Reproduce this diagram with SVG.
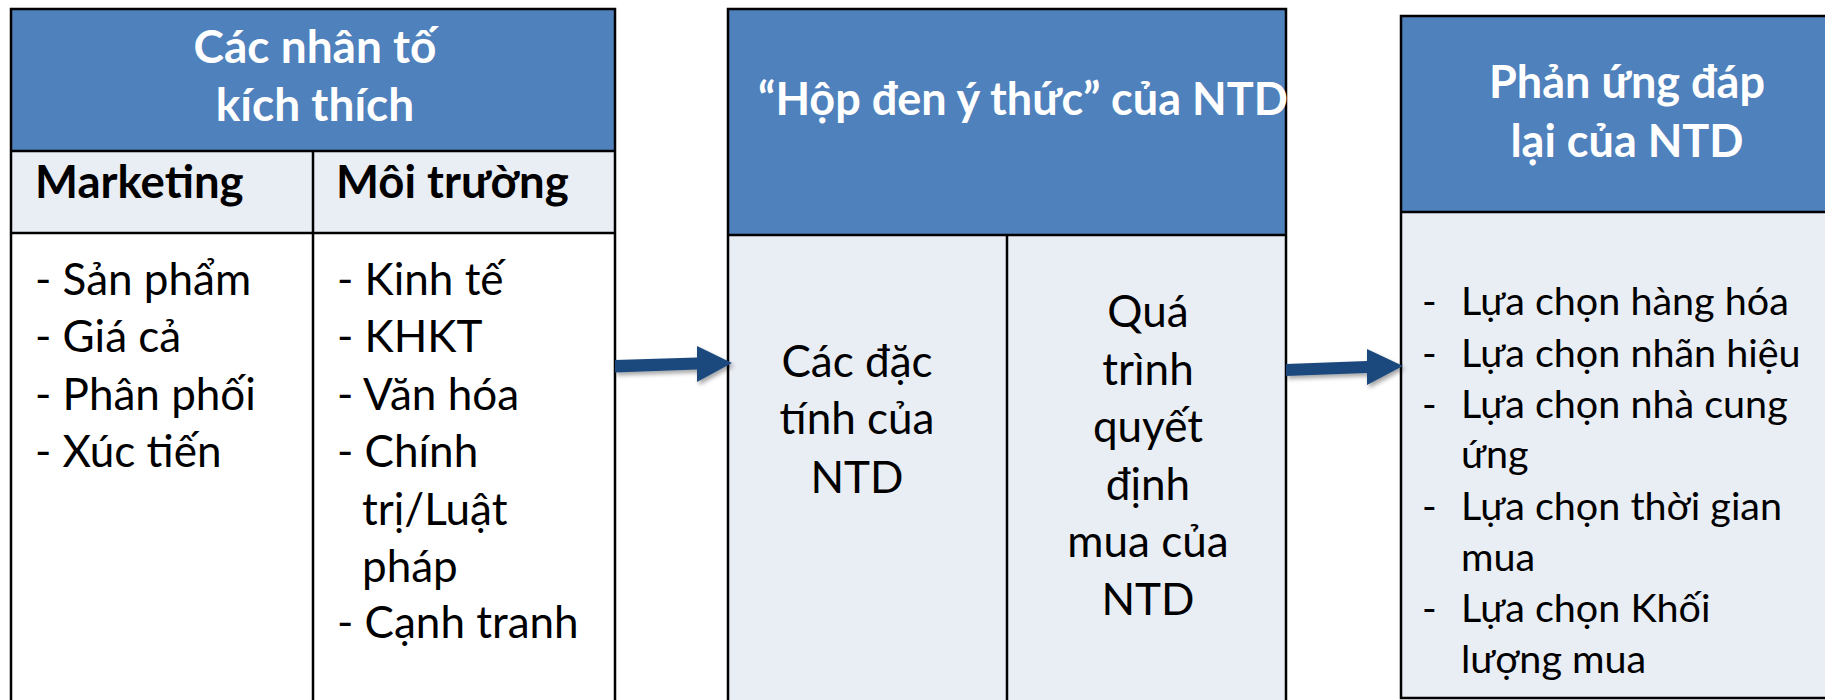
<svg xmlns="http://www.w3.org/2000/svg" width="1825" height="700" viewBox="0 0 1825 700">
  <style>
    .hdr { fill: #4F81BD; }
    .band { fill: #E9EDF4; }
    .plain { fill: #FFFFFF; }
    .ln { stroke: #000000; stroke-width: 2.5; fill: none; }
    .t { font-family: Lato, "Open Sans", "Noto Sans", sans-serif; fill: #000000; }
    .head { font-weight: bold; fill: #FFFFFF; font-size: 45px; }
    .sub { font-weight: bold; font-size: 45.5px; }
    .body { font-size: 44px; }
    .list { font-size: 39.5px; }
    .arrow { fill: #1F497D; filter: url(#shadow); }
  </style>
  <defs>
    <filter id="shadow" x="-20%" y="-40%" width="140%" height="200%">
      <feGaussianBlur in="SourceAlpha" stdDeviation="2"/>
      <feOffset dx="2" dy="3" result="blur"/>
      <feFlood flood-color="#000000" flood-opacity="0.35"/>
      <feComposite in2="blur" operator="in"/>
      <feMerge>
        <feMergeNode/>
        <feMergeNode in="SourceGraphic"/>
      </feMerge>
    </filter>
  </defs>

  <rect width="1825" height="700" fill="#FFFFFF"/>

  <!-- Stimulus factors -->
  <g id="stimuli">
    <rect class="hdr" x="11" y="9" width="604" height="142"/>
    <rect class="band" x="11" y="151" width="604" height="82"/>
    <rect class="plain" x="11" y="233" width="604" height="470"/>
    <path class="ln" d="M11,702 V9 H615 V702 M11,151 H615 M11,233 H615 M313,151 V702"/>
    <text class="t head" style="font-size:46px" text-anchor="middle" x="315" y="63">Các nhân tố</text>
    <text class="t head" style="font-size:46px" text-anchor="middle" x="315" y="121">kích thích</text>
    <text class="t sub" x="35" y="198">Marketing</text>
    <text class="t sub" x="336" y="198">Môi trường</text>
    <text class="t body" x="35" y="295">- Sản phẩm</text>
    <text class="t body" x="35" y="352">- Giá cả</text>
    <text class="t body" x="35" y="410">- Phân phối</text>
    <text class="t body" x="35" y="467">- Xúc tiến</text>
    <text class="t body" x="337" y="295">- Kinh tế</text>
    <text class="t body" x="337" y="352">- KHKT</text>
    <text class="t body" x="337" y="410">- Văn hóa</text>
    <text class="t body" x="337" y="467">- Chính</text>
    <text class="t body" x="362" y="525">trị/Luật</text>
    <text class="t body" x="362" y="582">pháp</text>
    <text class="t body" x="337" y="638">- Cạnh tranh</text>
  </g>

  <!-- Consumer black box -->
  <g id="blackbox">
    <rect class="hdr" x="728" y="9" width="558" height="226"/>
    <rect class="band" x="728" y="235" width="558" height="470"/>
    <path class="ln" d="M728,702 V9 H1286 V702 M728,235 H1286 M1007,235 V702"/>
    <text class="t head" x="758" y="115">“Hộp đen ý thức” của NTD</text>
    <text class="t body" text-anchor="middle" x="857" y="377">Các đặc</text>
    <text class="t body" text-anchor="middle" x="857" y="434">tính của</text>
    <text class="t body" text-anchor="middle" x="857" y="493">NTD</text>
    <text class="t body" text-anchor="middle" x="1148" y="327">Quá</text>
    <text class="t body" text-anchor="middle" x="1148" y="385">trình</text>
    <text class="t body" text-anchor="middle" x="1148" y="442">quyết</text>
    <text class="t body" text-anchor="middle" x="1148" y="500">định</text>
    <text class="t body" text-anchor="middle" x="1148" y="557">mua của</text>
    <text class="t body" text-anchor="middle" x="1148" y="615">NTD</text>
  </g>

  <!-- Consumer response -->
  <g id="response">
    <rect class="hdr" x="1401" y="16" width="430" height="196"/>
    <rect class="band" x="1401" y="212" width="430" height="486"/>
    <path class="ln" d="M1830,16 H1401 V698 H1830 M1401,212 H1830"/>
    <text class="t head" text-anchor="middle" x="1627" y="98">Phản ứng đáp</text>
    <text class="t head" text-anchor="middle" x="1627" y="157">lại của NTD</text>
    <g class="t list">
      <text x="1422" y="315">-</text><text x="1461" y="315">Lựa chọn hàng hóa</text>
      <text x="1422" y="367">-</text><text x="1461" y="367">Lựa chọn nhãn hiệu</text>
      <text x="1422" y="418">-</text><text x="1461" y="418">Lựa chọn nhà cung</text>
      <text x="1461" y="468">ứng</text>
      <text x="1422" y="520">-</text><text x="1461" y="520">Lựa chọn thời gian</text>
      <text x="1461" y="571">mua</text>
      <text x="1422" y="622">-</text><text x="1461" y="622">Lựa chọn Khối</text>
      <text x="1461" y="673">lượng mua</text>
    </g>
  </g>

  <!-- Flow arrows -->
  <g id="connectors">
    <polygon class="arrow" points="615,360 697,357.5 697,346 732,363 697,382 697,369.5 615,372.5"/>
    <polygon class="arrow" points="1286,364 1367,361 1367,349 1403,366 1367,385 1367,373 1286,376"/>
  </g>
</svg>
